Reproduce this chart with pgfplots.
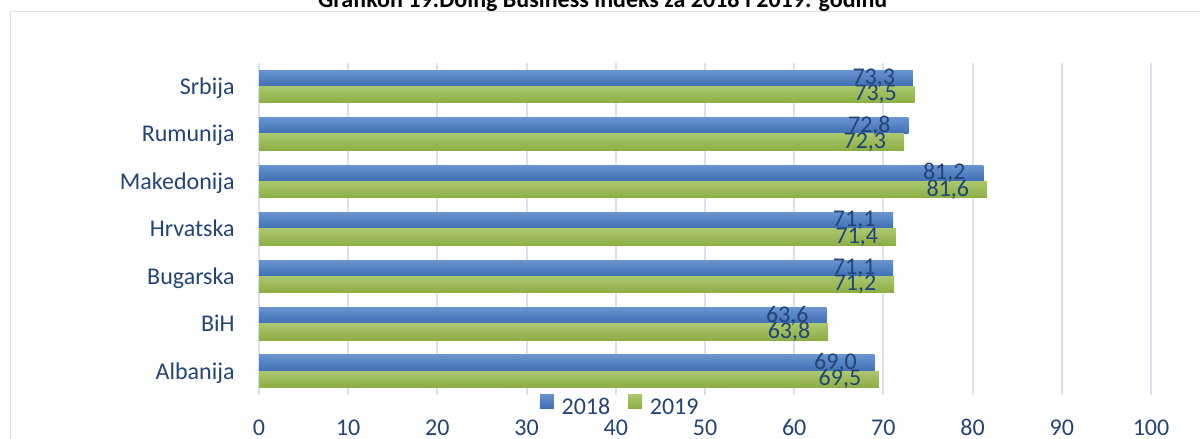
\documentclass[border=0pt]{standalone}
\usepackage{pgfplots}
\pgfplotsset{compat=1.18}
\usepackage{fontspec}
\setmainfont{Carlito}
\definecolor{txt}{HTML}{234477}
\definecolor{gridc}{HTML}{D9E2F3}
\definecolor{btop}{HTML}{6A94CF}
\definecolor{bbot}{HTML}{3E6EB3}
\definecolor{gtop}{HTML}{ABC76F}
\definecolor{gbot}{HTML}{8CAE44}
\pgfplotsset{
 b18/.style={draw=none, top color=btop, bottom color=bbot, bar shift=0.1715, forget plot},
 b19/.style={draw=none, top color=gtop, bottom color=gbot, bar shift=-0.1715, forget plot},
}
\begin{document}
\begin{tikzpicture}
\path[use as bounding box] (0,0) rectangle (600pt,-219.5pt);
\clip (0,0) rectangle (600pt,-219.5pt);
\draw[gridc, line width=0.5pt] (5pt,-5.85pt) rectangle (620pt,-240pt);
\node[anchor=base, font=\fontsize{12}{14}\selectfont\bfseries, inner sep=0pt] at (301.3pt,-3.65pt) {Grafikon 19:Doing Business indeks za 2018 i 2019. godinu};
\begin{axis}[
 at={(129.5pt,-197.5pt)}, anchor=south west,
 scale only axis, width=446pt, height=166.2pt,
 xmin=0, xmax=100, ymin=-0.5, ymax=6.5,
 xtick={0,10,...,100},
 ytick={0,...,6},
 yticklabels={Albanija,BiH,Bugarska,Hrvatska,Makedonija,Rumunija,Srbija},
 xmajorgrids, major grid style={gridc, line width=1pt},
 axis line style={draw=none},
 major tick length=0pt,
 tick style={draw=none},
 /pgf/number format/assume math mode=true,
 ticklabel style={font=\fontsize{12}{14}\selectfont, text=txt, inner sep=0pt},
 xticklabel style={anchor=base, yshift=-20pt},
 yticklabel style={anchor=base east, xshift=-12pt, yshift=-4pt},
 xbar, bar width=0.343,
 legend image code/.code={\path[#1] (0pt,0pt) rectangle (7pt,7pt);},
 nodes near coords={\pgfmathprintnumber[fixed,fixed zerofill,precision=1,use comma,assume math mode=true]{\pgfplotspointmeta}},
 nodes near coords style={anchor=east, xshift=-8.7pt, inner sep=0pt, font=\fontsize{12}{14}\selectfont, text=txt},
 legend columns=2,
 legend style={at={(0.315,-0.0331)}, anchor=west, draw=none, fill=none, inner sep=0pt, outer sep=0pt, font=\fontsize{12}{14}\selectfont, text=txt, nodes={inner sep=0pt}, /tikz/every odd column/.append style={column sep=3.8pt}, /tikz/every even column/.append style={column sep=9pt}},
]
% 2018
\addplot[b18] coordinates {(69.0,0)};
\addplot[b18] coordinates {(63.6,1)};
\addplot[b18] coordinates {(71.1,2)};
\addplot[b18] coordinates {(71.1,3)};
\addplot[b18] coordinates {(81.2,4)};
\addplot[b18] coordinates {(72.8,5)};
\addplot[b18] coordinates {(73.3,6)};
% 2019
\addplot[b19] coordinates {(69.5,0)};
\addplot[b19] coordinates {(63.8,1)};
\addplot[b19] coordinates {(71.2,2)};
\addplot[b19] coordinates {(71.4,3)};
\addplot[b19] coordinates {(81.6,4)};
\addplot[b19] coordinates {(72.3,5)};
\addplot[b19] coordinates {(73.5,6)};
\addlegendimage{draw=none, top color=btop, bottom color=bbot}
\addlegendentry{2018}
\addlegendimage{draw=none, top color=gtop, bottom color=gbot}
\addlegendentry{2019}
\end{axis}
\end{tikzpicture}
\end{document}
